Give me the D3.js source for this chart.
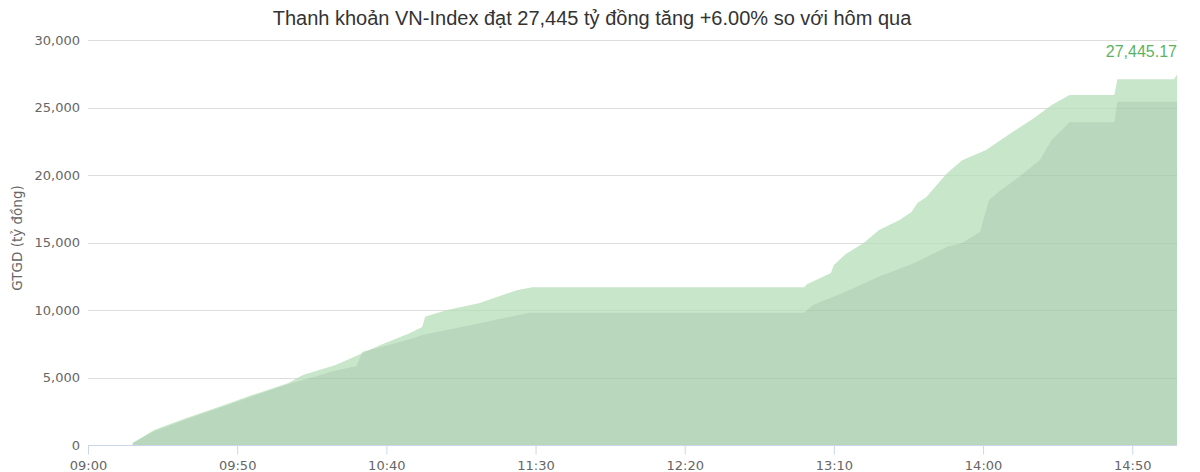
<!DOCTYPE html>
<html>
<head>
<meta charset="utf-8">
<script src="https://cdn.jsdelivr.net/npm/d3@7/dist/d3.min.js"></script>
<style>
  html, body { margin: 0; padding: 0; background: #fff; }
  svg { display: block; }
</style>
</head>
<body>
<svg id="chart" width="1200" height="472"></svg>
<script>
// ---------- data ----------
const titleText = "Thanh khoản VN-Index đạt 27,445 tỷ đồng tăng +6.00% so với hôm qua";
const yAxisTitle = "GTGD (tỷ đồng)";
const lastValueLabel = "27,445.17";

const todayTimes = ["09:15","09:22","09:25","09:33","09:44","09:55","10:07","10:12","10:23","10:31","10:38","10:48","10:52","10:53","11:00","11:11","11:24","11:29","11:30","13:00","13:01","13:09","13:10","13:14","13:20","13:25","13:32","13:36","13:38","13:41","13:48","13:53","14:01","14:10","14:17","14:23","14:29","14:44","14:45","15:04","15:05"];
const todayValues = [150,1100,1350,2000,2840,3700,4570,5185,5930,6700,7400,8300,8740,9500,9980,10500,11480,11680,11680,11680,11900,12740,13330,14150,14960,15900,16670,17260,17930,18370,20150,21100,21850,23200,24200,25180,25930,25930,27090,27090,27445.17];

const yesterdayTimes = ["09:15","09:22","09:25","09:33","09:44","09:55","10:07","10:18","10:21","10:30","10:32","10:38","10:49","10:52","11:11","11:28","11:30","13:00","13:03","13:14","13:25","13:37","13:48","13:53","13:59","14:02","14:06","14:12","14:19","14:23","14:29","14:44","14:45","15:05"];
const yesterdayValues = [150,1000,1250,1900,2750,3600,4500,5185,5400,5850,6900,7250,7900,8150,9000,9800,9800,9800,10370,11350,12470,13480,14690,14960,15800,18150,18890,19850,21100,22600,23900,23900,25430,25430];

const xTickLabels = ["09:00","09:50","10:40","11:30","12:20","13:10","14:00","14:50"];
const xDomainLabels = ["09:00","15:05"];
const yTicks = [0,5000,10000,15000,20000,25000,30000];

// ---------- setup ----------
const parse = d3.timeParse("%H:%M");
const today = todayTimes.map((t,i)=>({t: parse(t), v: todayValues[i]}));
const yesterday = yesterdayTimes.map((t,i)=>({t: parse(t), v: yesterdayValues[i]}));

const svg = d3.select("#chart");
const mLeft = 88, mRight = 1177, mTop = 40, mBottom = 445;

const x = d3.scaleTime().domain(xDomainLabels.map(parse)).range([mLeft, mRight]);
const y = d3.scaleLinear().domain([0, 30000]).range([mBottom, mTop]);

const fmt = d3.format(",");

// grid lines under
svg.append("g").selectAll("line").data(yTicks.filter(d=>d>0)).join("line")
  .attr("x1", mLeft).attr("x2", mRight)
  .attr("y1", d=>Math.round(y(d))+0.5).attr("y2", d=>Math.round(y(d))+0.5)
  .attr("stroke", "#e6e6e6").attr("stroke-width", 1);

// areas
const area = d3.area().x(d=>x(d.t)).y0(y(0)).y1(d=>y(d.v)).curve(d3.curveLinear);

const defs = svg.append("defs");
defs.append("clipPath").attr("id","todayClip")
  .append("path").attr("d", area(today));

svg.append("path").attr("d", area(yesterday)).attr("fill", "#c8e6c9");
svg.append("path").attr("d", area(today)).attr("fill", "#c8e6c9");
svg.append("path").attr("d", area(yesterday)).attr("fill", "#b8d7bc")
  .attr("clip-path", "url(#todayClip)");

// faint grid over areas
svg.append("g").selectAll("line").data(yTicks.filter(d=>d>0)).join("line")
  .attr("x1", mLeft).attr("x2", mRight)
  .attr("y1", d=>Math.round(y(d))+0.5).attr("y2", d=>Math.round(y(d))+0.5)
  .attr("stroke", "rgba(0,0,0,0.04)").attr("stroke-width", 1);

// x axis
const xAxis = d3.axisBottom(x)
  .tickValues(xTickLabels.map(parse))
  .tickFormat(d3.timeFormat("%H:%M"))
  .tickSize(9).tickPadding(6);
const gx = svg.append("g").attr("transform", `translate(0,${mBottom + 0.5})`).call(xAxis);
gx.select(".domain").attr("stroke", "#ccd6eb").attr("d", `M${mLeft},0H${mRight}`);
gx.selectAll(".tick line").attr("stroke", "#ccd6eb");
gx.selectAll(".tick text").attr("fill", "#666").attr("font-family", "DejaVu Sans")
  .attr("font-size", 13).attr("dy", "0.71em");

// y axis labels
const yAxis = d3.axisLeft(y).tickValues(yTicks).tickFormat(fmt).tickSize(0).tickPadding(8);
const gy = svg.append("g").attr("transform", `translate(${mLeft},0)`).call(yAxis);
gy.select(".domain").remove();
gy.selectAll(".tick text").attr("fill", "#666").attr("font-family", "DejaVu Sans").attr("font-size", 13);

// y title
svg.append("text")
  .attr("transform", `translate(22,238) rotate(-90)`)
  .attr("text-anchor", "middle")
  .attr("fill", "#666").attr("font-family", "DejaVu Sans").attr("font-size", 13.5)
  .text(yAxisTitle);

// title
svg.append("text")
  .attr("x", 592).attr("y", 25)
  .attr("text-anchor", "middle")
  .attr("fill", "#333").attr("font-family", "Liberation Sans, Arial").attr("font-size", 20)
  .text(titleText);

// last value label
const last = today[today.length-1];
svg.append("text")
  .attr("x", x(last.t)).attr("y", 57)
  .attr("text-anchor", "end")
  .attr("fill", "#5cb35f").attr("font-family", "Liberation Sans, Arial").attr("font-size", 16)
  .text(lastValueLabel);
</script>
</body>
</html>
